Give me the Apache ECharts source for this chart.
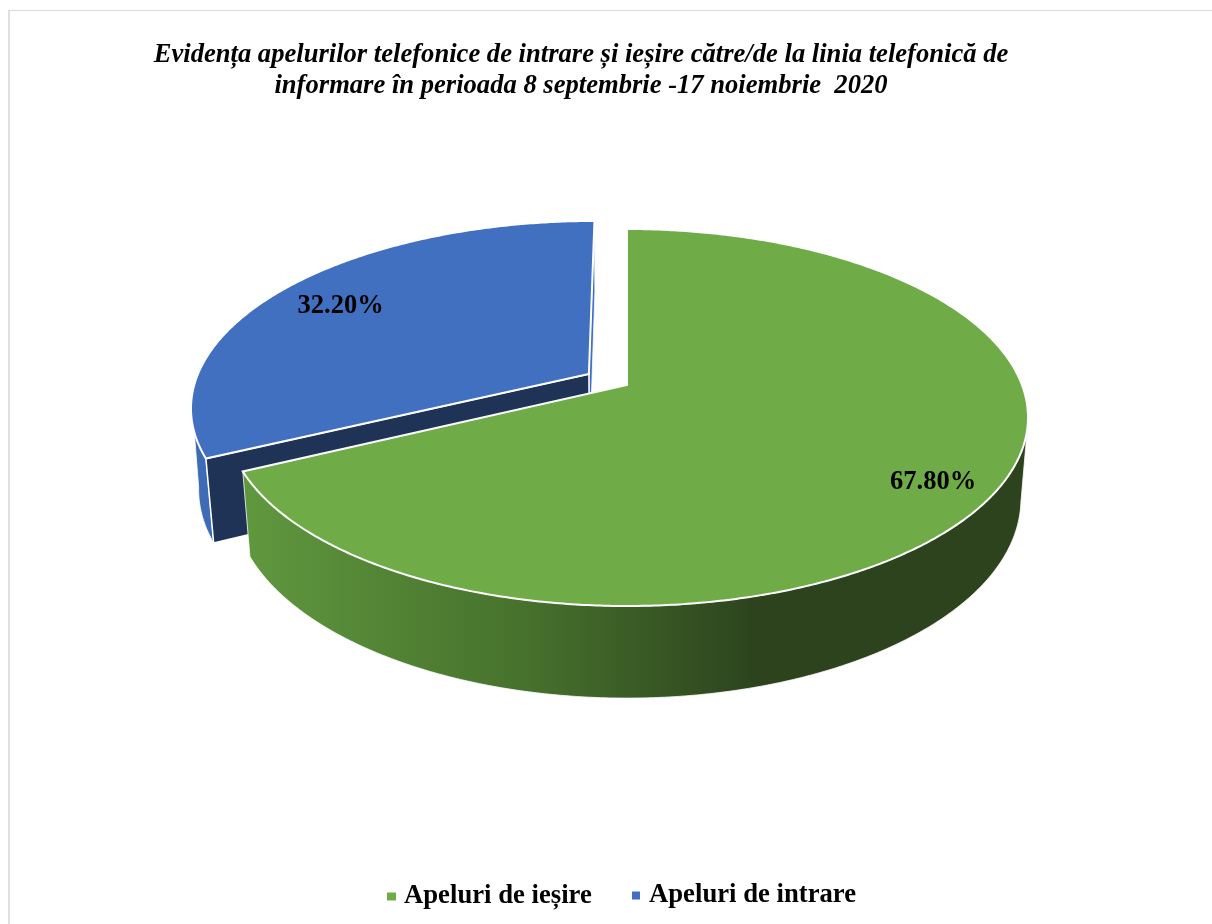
<!DOCTYPE html>
<html>
<head>
<meta charset="utf-8">
<title>Evidența apelurilor</title>
<script src="https://cdn.jsdelivr.net/npm/echarts@6/dist/echarts.min.js"></script>
<style>
  html, body { margin: 0; padding: 0; background: #ffffff; }
  #chart { width: 1212px; height: 924px; }
</style>
</head>
<body>
<div id="chart"></div>
<script>
const titleLines = [
  "Evidența apelurilor telefonice de intrare și ieșire către/de la linia telefonică de",
  "informare în perioada 8 septembrie -17 noiembrie  2020"
];
const sliceNames = ["Apeluri de ieșire", "Apeluri de intrare"];
const sliceValues = [67.8, 32.2];

const SERIF = '"Liberation Serif", "Times New Roman", serif';
const GREEN = "#6fac48";
const BLUE = "#4170c0";
const NAVY = "#1f3357";

// the pie is a unit circle seen through a perspective projection
const view = { x: 627, y: 385, b: 395, a: 182.9, k: 0.1724, m: 0.0175, c: 81.7 };
const EXPLODE = 0.115;

function project(X, Y, Z) {
  const d = 1 - view.k * Y + view.m * Z;
  return [view.x + view.b * X / d, view.y + (view.a * Y + view.c * Z) / d];
}

// deg: clockwise from the top of the pie
function rim(deg, center, Z, r) {
  const t = deg * Math.PI / 180;
  return project(center[0] + r * Math.sin(t), center[1] - r * Math.cos(t), Z);
}

function arc(from, to, center, Z) {
  const pts = [];
  const n = Math.ceil(Math.abs(to - from) / 0.5);
  for (let i = 0; i <= n; i++) pts.push(rim(from + (to - from) * i / n, center, Z, 1));
  return pts;
}

function poly(points, fill, lineWidth) {
  return {
    type: "polygon",
    shape: { points: points },
    style: { fill: fill, stroke: "#ffffff", lineWidth: lineWidth === undefined ? 1 : lineWidth }
  };
}

function label(value, deg, center, r) {
  const p = rim(deg, center, 0, r);
  return {
    type: "text",
    style: {
      text: value.toFixed(2) + "%",
      x: p[0], y: p[1],
      align: "center", verticalAlign: "middle",
      font: "bold 26.5px " + SERIF,
      fill: "#000000"
    }
  };
}

const total = sliceValues.reduce((s, v) => s + v, 0);

function renderGreen(params, api) {
  const end = api.value(0) / total * 360;
  const c = [0, 0];
  const wallFill = {
    type: "linear", global: true, x: 250, y: 0, x2: 760, y2: 0,
    colorStops: [
      { offset: 0, color: "#5f973e" },
      { offset: 0.55, color: "#46702c" },
      { offset: 1, color: "#2c431e" }
    ]
  };
  const wall = arc(101, end, c, 0).concat(arc(end, 101, c, 1));
  const top = [project(0, 0, 0)].concat(arc(0, end, c, 0));
  return {
    type: "group",
    children: [
      poly(wall, wallFill, 0.8),
      poly(top, GREEN, 2),
      label(api.value(0), end / 2 + 2.3, c, 0.86)
    ]
  };
}

function renderBlue(params, api) {
  const sweep = api.value(0) / total * 360;
  const start = 360 - sweep;
  const mid = start + sweep / 2;
  const t = mid * Math.PI / 180;
  const c = [EXPLODE * Math.sin(t), -EXPLODE * Math.cos(t)];
  const apexTop = project(c[0], c[1], 0);
  const apexBottom = project(c[0], c[1], 1);
  const wall = arc(start, 252, c, 0).concat(arc(260, start, c, 1));
  const cut = [apexTop, rim(start, c, 0, 1), rim(start, c, 1, 1), apexBottom];
  const inner = [apexTop, rim(360, c, 0, 1), rim(360, c, 1, 1), apexBottom];
  const top = [apexTop].concat(arc(start, 360, c, 0));
  return {
    type: "group",
    children: [
      poly(wall, "#3d6bb6", 0.8),
      poly(inner, BLUE, 0.8),
      poly(cut, NAVY, 1.5),
      poly(top, BLUE, 2),
      label(api.value(0), mid - 1.6, c, 0.795)
    ]
  };
}

const chart = echarts.init(document.getElementById("chart"));
chart.setOption({
  animation: false,
  backgroundColor: "#ffffff",
  title: {
    text: titleLines.join("\n"),
    left: 576,
    top: 35,
    textAlign: "center",
    textStyle: {
      fontFamily: SERIF,
      fontStyle: "italic",
      fontWeight: "bold",
      fontSize: 26.6,
      lineHeight: 31,
      color: "#000000"
    }
  },
  legend: [
    {
      data: [sliceNames[0]], left: 382, top: 878,
      icon: "rect", itemWidth: 9, itemHeight: 8,
      textStyle: { fontFamily: SERIF, fontWeight: "bold", fontSize: 26.7, color: "#000000", padding: [0, 0, 0, 3] }
    },
    {
      data: [sliceNames[1]], left: 627, top: 877,
      icon: "rect", itemWidth: 8, itemHeight: 8,
      textStyle: { fontFamily: SERIF, fontWeight: "bold", fontSize: 26.7, color: "#000000", padding: [0, 0, 0, 4] }
    }
  ],
  graphic: [
    { type: "line", shape: { x1: 9, y1: 10, x2: 9, y2: 924 }, style: { stroke: "#e0e0e0", lineWidth: 2 }, silent: true },
    { type: "line", shape: { x1: 8, y1: 10.5, x2: 1212, y2: 10.5 }, style: { stroke: "#d9d9d9", lineWidth: 1 }, silent: true }
  ],
  series: [
    {
      type: "custom", name: sliceNames[1], coordinateSystem: "none",
      itemStyle: { color: BLUE },
      data: [[sliceValues[1]]], renderItem: renderBlue, silent: true
    },
    {
      type: "custom", name: sliceNames[0], coordinateSystem: "none",
      itemStyle: { color: GREEN },
      data: [[sliceValues[0]]], renderItem: renderGreen, silent: true
    }
  ]
});
</script>
</body>
</html>
